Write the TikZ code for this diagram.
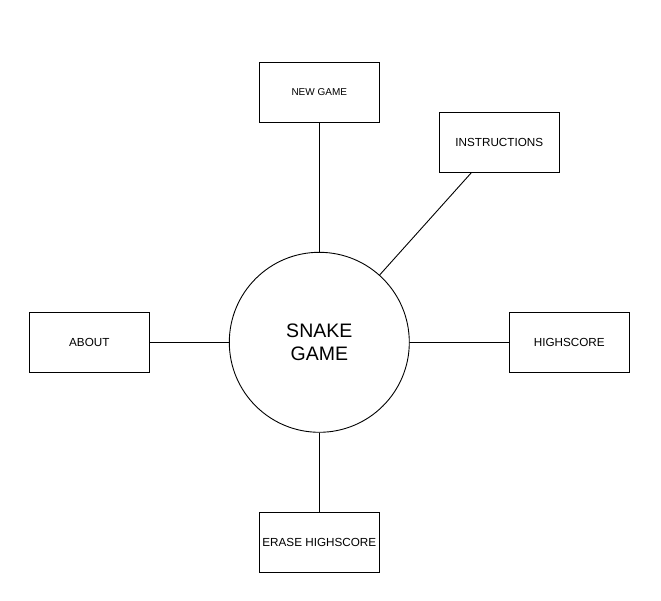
\documentclass[tikz,border=0pt]{standalone}
\usepackage{fontspec}
\setmainfont{Liberation Sans}
\begin{document}
\begin{tikzpicture}[x=1pt,y=-1pt,
  box/.style={draw, line width=0.9pt, minimum width=120pt, minimum height=60pt, inner sep=0pt, font=\fontsize{11.7}{13}\selectfont},
  hub/.style={draw, circle, line width=0.9pt, minimum size=180pt, inner sep=0pt, align=center, font=\fontsize{19.5}{23}\selectfont},
  link/.style={line width=0.9pt}]
\useasboundingbox (0,0) rectangle (661,601);
\node[hub] (c) at (319.3,342.3) {SNAKE\\GAME};
\node[box, font=\fontsize{10}{12}\selectfont] (ng) at (319.3,92.3) {NEW GAME};
\node[box] (ins) at (499.3,142.3) {INSTRUCTIONS};
\node[box] (ab) at (89.3,342.3) {ABOUT};
\node[box] (hs) at (569.3,342.3) {HIGHSCORE};
\node[box] (er) at (319.3,542.3) {ERASE HIGHSCORE};
\coordinate (ie) at (471.7,172.3);
\draw[link] (ng) -- (c);
\draw[link] (c) -- (ie);
\draw[link] (ab) -- (c);
\draw[link] (c) -- (hs);
\draw[link] (c) -- (er);
\end{tikzpicture}
\end{document}
